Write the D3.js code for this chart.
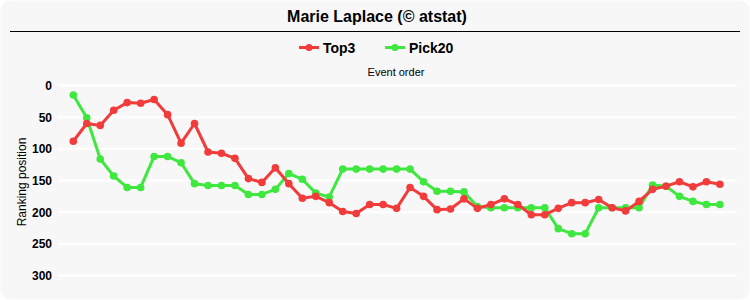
<!DOCTYPE html>
<html>
<head>
<meta charset="utf-8">
<script src="https://cdn.jsdelivr.net/npm/d3@7"></script>
<style>
  html, body { margin: 0; padding: 0; background: #ffffff; }
  svg { display: block; }
</style>
</head>
<body>
<div id="chart"></div>
<script>
const title = "Marie Laplace (© atstat)";
const xAxisTitle = "Event order";
const yAxisTitle = "Ranking position";
const seriesNames = ["Top3", "Pick20"];
const seriesColors = ["#f23b3b", "#3ee83e"];
const yTicks = [0, 50, 100, 150, 200, 250, 300];

const top3 = [88, 60, 63, 39, 27, 28, 22, 46, 91, 60,
  105, 107, 115, 147, 153, 130, 155, 178, 175, 185,
  199, 202, 188, 188, 194, 161, 175, 196, 195, 179,
  194, 188, 179, 188, 204, 204, 194, 185, 185, 180,
  193, 198, 183, 164, 159, 152, 160, 152, 156];

const pick20 = [15, 51, 116, 143, 161, 161, 112, 112, 122, 155,
  158, 158, 158, 172, 172, 164, 139, 148, 170, 176,
  132, 132, 132, 132, 132, 132, 152, 167, 167, 168,
  191, 193, 193, 193, 193, 193, 226, 234, 234, 193,
  193, 193, 193, 157, 159, 175, 183, 188, 188];

const W = 750, H = 300;
const svg = d3.select("#chart").append("svg").attr("width", W).attr("height", H);

svg.append("rect").attr("x", 0.5).attr("y", 0.5).attr("width", W - 1).attr("height", H - 1)
  .attr("rx", 10).attr("fill", "#f7f7f7");

svg.append("text").attr("x", 377).attr("y", 22).attr("text-anchor", "middle")
  .style("font-family", "Liberation Sans, Arial, sans-serif").style("font-weight", "bold")
  .style("font-size", "16px").attr("fill", "#000").text(title);

svg.append("line").attr("x1", 10).attr("x2", 740).attr("y1", 31.5).attr("y2", 31.5)
  .attr("stroke", "#000").attr("stroke-width", 1.2);

const xs = d3.scaleLinear().domain([0, top3.length - 1]).range([73.3, 719.9]);
const ys = d3.scaleLinear().domain([0, 300]).range([85.5, 275.5]);

// gridlines
svg.append("g").selectAll("line").data(yTicks).join("line")
  .attr("x1", 58).attr("x2", 737)
  .attr("y1", d => ys(d)).attr("y2", d => ys(d))
  .attr("stroke", "#ffffff").attr("stroke-width", 2);

// y axis
const yAxis = d3.axisLeft(ys).tickValues(yTicks).tickSize(0).tickPadding(0);
const yg = svg.append("g").attr("transform", "translate(52,0)").call(yAxis);
yg.select(".domain").remove();
yg.selectAll("text").style("font-family", "Liberation Sans, Arial, sans-serif")
  .style("font-weight", "bold").style("font-size", "12px").attr("fill", "#000");

svg.append("text").attr("transform", "translate(26,182) rotate(-90)")
  .attr("text-anchor", "middle")
  .style("font-family", "Liberation Sans, Arial, sans-serif").style("font-size", "12px")
  .attr("fill", "#000").text(yAxisTitle);

svg.append("text").attr("x", 396).attr("y", 76).attr("text-anchor", "middle")
  .style("font-family", "Liberation Sans, Arial, sans-serif").style("font-size", "11px")
  .attr("fill", "#000").text(xAxisTitle);

// series
const allSeries = [top3, pick20];
const line = d3.line().x((d, i) => xs(i)).y(d => ys(d));
[1, 0].forEach(k => {
  const g = svg.append("g");
  g.append("path").datum(allSeries[k]).attr("d", line).attr("fill", "none")
    .attr("stroke", seriesColors[k]).attr("stroke-width", 3).attr("stroke-linejoin", "round");
  g.selectAll("circle").data(allSeries[k]).join("circle")
    .attr("cx", (d, i) => xs(i)).attr("cy", d => ys(d)).attr("r", 3.8)
    .attr("fill", seriesColors[k]);
});

// legend
const legendX = [299, 385];
seriesNames.forEach((name, k) => {
  const g = svg.append("g").attr("transform", `translate(${legendX[k]},47.5)`);
  g.append("line").attr("x1", 0).attr("x2", 20).attr("y1", 0).attr("y2", 0)
    .attr("stroke", seriesColors[k]).attr("stroke-width", 3);
  g.append("circle").attr("cx", 10).attr("cy", 0).attr("r", 3.5).attr("fill", seriesColors[k]);
  g.append("text").attr("x", 24).attr("y", 5)
    .style("font-family", "Liberation Sans, Arial, sans-serif").style("font-weight", "bold")
    .style("font-size", "14px").attr("fill", "#000").text(name);
});
</script>
</body>
</html>
